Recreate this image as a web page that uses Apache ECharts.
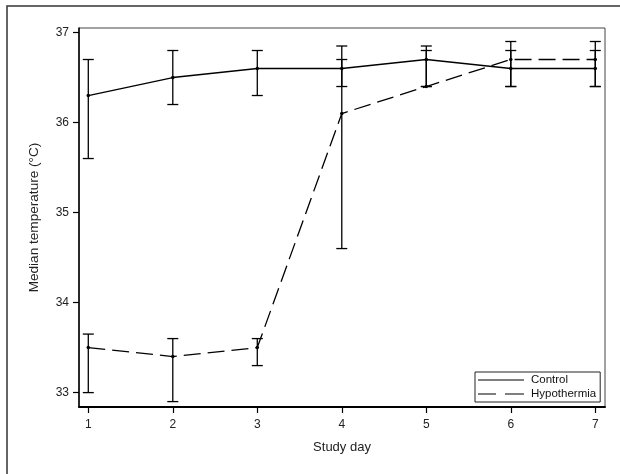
<!DOCTYPE html>
<html><head><meta charset="utf-8">
<script src="https://cdn.jsdelivr.net/npm/echarts@6/dist/echarts.min.js"></script>
<style>html,body{margin:0;padding:0;background:#fff}#c{width:620px;height:474px}</style>
</head><body><div id="c"></div>
<script>
var days = [1, 2, 3, 4, 5, 6, 7];
var xTicks = [1, 2, 3, 4, 5, 6, 7];
var yTicks = [33, 34, 35, 36, 37];
var controlMedian = [36.3, 36.5, 36.6, 36.6, 36.7, 36.6, 36.6];
var controlLow    = [35.6, 36.2, 36.3, 36.4, 36.4, 36.4, 36.4];
var controlHigh   = [36.7, 36.8, 36.8, 36.85, 36.85, 36.8, 36.8];
var hypoMedian = [33.5, 33.4, 33.5, 36.1, 36.4, 36.7, 36.7];
var hypoLow    = [33.0, 32.9, 33.3, 34.6, 36.4, 36.4, 36.4];
var hypoHigh   = [33.65, 33.6, 33.6, 36.7, 36.8, 36.9, 36.9];

var FONT = 'Liberation Sans, Arial, sans-serif';
function pts(v){ return days.map(function(d,i){ return [d, v[i]]; }); }
function bars(lo,hi){ return days.map(function(d,i){ return [d, lo[i], hi[i]]; }); }
function errRender(params, api){
  var x = api.value(0), lo = api.coord([x, api.value(1)]), hi = api.coord([x, api.value(2)]);
  var w = 5.5, st = {stroke:'#000', lineWidth:1.3};
  return {type:'group', children:[
    {type:'line', shape:{x1:lo[0],y1:lo[1],x2:hi[0],y2:hi[1]}, style:st},
    {type:'line', shape:{x1:lo[0]-w,y1:lo[1],x2:lo[0]+w,y2:lo[1]}, style:st},
    {type:'line', shape:{x1:hi[0]-w,y1:hi[1],x2:hi[0]+w,y2:hi[1]}, style:st}
  ]};
}
var chart = echarts.init(document.getElementById('c'), null, {renderer:'canvas'});
chart.setOption({
  animation:false,
  backgroundColor:'#fff',
  textStyle:{fontFamily:FONT},
  grid:{left:79, top:28, width:526, height:379, show:true, borderColor:'#444', borderWidth:1, backgroundColor:'transparent'},
  xAxis:{type:'value', min:0.89, max:7.115, name:'Study day', nameLocation:'middle', nameGap:34,
    nameTextStyle:{fontSize:13, color:'#222', fontFamily:FONT},
    splitLine:{show:false},
    axisLine:{show:true, onZero:false, lineStyle:{color:'#000', width:2}},
    axisTick:{show:true, length:6, lineStyle:{color:'#000', width:1.2}, customValues:xTicks},
    axisLabel:{margin:12, fontSize:12, color:'#222', fontFamily:FONT, customValues:xTicks}},
  yAxis:{type:'value', min:32.84, max:37.05, name:'Median temperature (°C)', nameLocation:'middle', nameGap:38,
    nameTextStyle:{fontSize:13.6, color:'#222', fontFamily:FONT},
    splitLine:{show:false},
    axisLine:{show:true, onZero:false, lineStyle:{color:'#000', width:1.5}},
    axisTick:{show:true, length:6, lineStyle:{color:'#000', width:1.2}, customValues:yTicks},
    axisLabel:{margin:10, fontSize:12, color:'#222', fontFamily:FONT, customValues:yTicks}},
  legend:{orient:'vertical', left:475, top:372, width:125, padding:[2,4,2,3], itemGap:2,
    borderColor:'#222', borderWidth:1, backgroundColor:'#fff', itemWidth:46, itemHeight:1.3,
    textStyle:{fontSize:11.5, color:'#111', fontFamily:FONT, padding:[0,0,0,2]},
    data:[
      {name:'Control', icon:'path://M0,0h46v1h-46z'},
      {name:'Hypothermia', icon:'path://M0,0h18v1h-18zM27,0h19v1h-19z'}
    ]},
  series:[
    {type:'custom', name:'ctrlErr', renderItem:errRender, data:bars(controlLow, controlHigh), z:3, silent:true},
    {type:'custom', name:'hypoErr', renderItem:errRender, data:bars(hypoLow, hypoHigh), z:3, silent:true},
    {type:'line', name:'Control', data:pts(controlMedian), symbol:'circle', symbolSize:3.5, z:4,
      lineStyle:{color:'#000', width:1.3}, itemStyle:{color:'#000'}},
    {type:'line', name:'Hypothermia', data:pts(hypoMedian), symbol:'circle', symbolSize:3.5, z:4,
      lineStyle:{color:'#000', width:1.3, type:[17,7]}, itemStyle:{color:'#000'}}
  ],
  graphic:[{type:'rect', shape:{x:7, y:6, width:640, height:500}, style:{fill:null, stroke:'#333', lineWidth:1.5}, z:-1, silent:true}]
});
</script></body></html>
